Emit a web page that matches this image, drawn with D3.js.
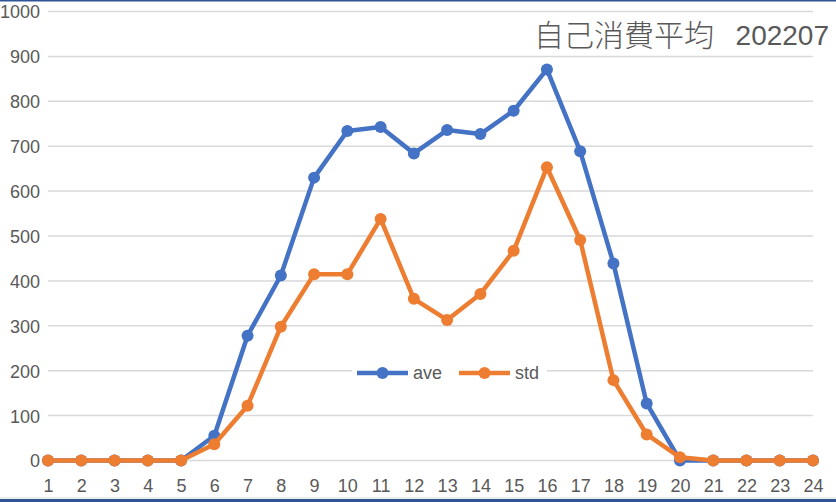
<!DOCTYPE html>
<html><head><meta charset="utf-8">
<script src="https://cdn.jsdelivr.net/npm/d3@7"></script>
<style>html,body{margin:0;padding:0;background:#fff;}svg{display:block;}</style>
</head><body>
<script>
const hours = d3.range(1, 25);
const aveValues = [0,0,0,0,0,55,278,412,630,734,743,684,736,727,779,871,689,439,127,0,0,0,0,0];
const stdValues = [0,0,0,0,0,36,122,298,415,415,538,360,313,371,467,653,491,179,58,7,0,0,0,0];
const yTicks = [0,100,200,300,400,500,600,700,800,900,1000];
const seriesNames = ["ave","std"];
const titleMain = "自己消費平均";
const titleSub = "202207";

const W = 836, H = 502;
const colors = {ave:"#4472C4", std:"#ED7D31"};
const textColor = "#595959";
const font = "'Liberation Sans', Arial, sans-serif";

const svg = d3.select("body").append("svg").attr("width", W).attr("height", H);
svg.append("rect").attr("width", W).attr("height", H).attr("fill", "#fff");

const x = d3.scalePoint().domain(hours).range([48, 813]);
const y = d3.scaleLinear().domain([0, 1000]).range([460.5, 11.5]);

// gridlines
svg.append("g").selectAll("line").data(yTicks).join("line")
  .attr("x1", 48).attr("x2", 813)
  .attr("y1", d => y(d)).attr("y2", d => y(d))
  .attr("stroke", "#D9D9D9").attr("stroke-width", 1.5);

// y axis labels
const yAxis = d3.axisLeft(y).tickValues(yTicks).tickFormat(d3.format("d")).tickSize(0).tickPadding(0);
const gy = svg.append("g").attr("transform", "translate(40,0)").call(yAxis);
gy.select(".domain").remove();
gy.selectAll("text").attr("font-family", font).attr("font-size", 18).attr("fill", textColor).attr("dy", "0.36em");

// x axis labels
const xAxis = d3.axisBottom(x).tickSize(0).tickPadding(0);
const gx = svg.append("g").attr("transform", "translate(0,479)").call(xAxis);
gx.select(".domain").remove();
gx.selectAll("text").attr("font-family", font).attr("font-size", 18).attr("fill", textColor).attr("dy", "0.71em");

// title
svg.append("text").attr("x", 534).attr("y", 46)
  .attr("font-family", "'Noto Sans CJK JP', sans-serif").attr("font-size", 30).attr("fill", textColor)
  .attr("font-weight", 300)
  .text(titleMain);
svg.append("text").attr("x", 829).attr("y", 45).attr("text-anchor", "end")
  .attr("font-family", font).attr("font-size", 28).attr("fill", textColor)
  .text(titleSub);

// legend
const lg = svg.append("g");
lg.append("rect").attr("x", 352).attr("y", 360).attr("width", 195).attr("height", 26).attr("fill", "#fff");
const legendItems = [{name:seriesNames[0], x0:357}, {name:seriesNames[1], x0:459}];
legendItems.forEach(it => {
  lg.append("line").attr("x1", it.x0).attr("x2", it.x0 + 51).attr("y1", 373).attr("y2", 373)
    .attr("stroke", colors[it.name]).attr("stroke-width", 4.5);
  lg.append("circle").attr("cx", it.x0 + 25.5).attr("cy", 373).attr("r", 6).attr("fill", colors[it.name]);
  lg.append("text").attr("x", it.x0 + 56).attr("y", 379).attr("font-family", font).attr("font-size", 18)
    .attr("fill", textColor).text(it.name);
});

// series
const line = d3.line().x((d,i) => x(hours[i])).y(d => y(d));
const series = [{name:"ave", values:aveValues}, {name:"std", values:stdValues}];
series.forEach(s => {
  const g = svg.append("g");
  g.append("path").datum(s.values).attr("d", line).attr("fill", "none")
    .attr("stroke", colors[s.name]).attr("stroke-width", 4.5).attr("stroke-linejoin", "round");
  g.selectAll("circle").data(s.values).join("circle")
    .attr("cx", (d,i) => x(hours[i])).attr("cy", d => y(d)).attr("r", 6).attr("fill", colors[s.name]);
});

// borders
svg.append("rect").attr("x", 0).attr("y", 0).attr("width", W).attr("height", 1.5).attr("fill", "#2F5597");
svg.append("rect").attr("x", 0).attr("y", 497.5).attr("width", W).attr("height", 1).attr("fill", "#D9D9D9");
svg.append("rect").attr("x", 0).attr("y", 499).attr("width", W).attr("height", 3).attr("fill", "#2F5597");
</script>
</body></html>
